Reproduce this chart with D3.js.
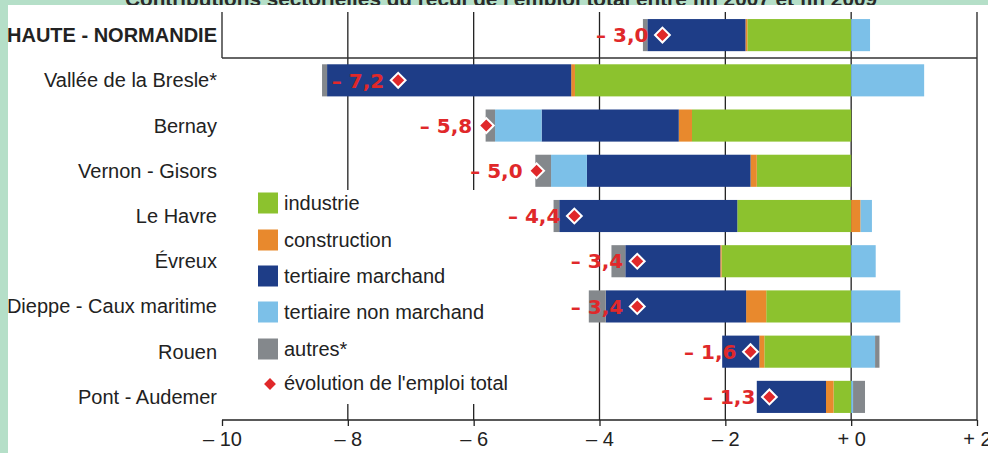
<!DOCTYPE html>
<html>
<head>
<meta charset="utf-8">
<script src="https://cdn.jsdelivr.net/npm/d3@7"></script>
<style>
  body { margin: 0; background: #fff; }
  svg { display: block; }
</style>
</head>
<body>
<div id="chart"></div>
<script>
var categories = ["HAUTE - NORMANDIE", "Vallée de la Bresle*", "Bernay", "Vernon - Gisors", "Le Havre",
                  "Évreux", "Dieppe - Caux maritime", "Rouen", "Pont - Audemer"];
var industrie        = [-1.65, -4.39, -2.53, -1.50, -1.81, -2.06, -1.35, -1.38, -0.28];
var construction     = [-0.03, -0.06, -0.21, -0.10,  0.15, -0.02, -0.32, -0.08, -0.12];
var tertMarchand     = [-1.56, -3.88, -2.18, -2.60, -2.83, -1.51, -2.23, -0.59, -1.10];
var tertNonMarchand  = [ 0.30,  1.16, -0.74, -0.57,  0.18,  0.39,  0.78,  0.38,  0.03];
var autres           = [-0.07, -0.08, -0.15, -0.25, -0.09, -0.22, -0.27,  0.07,  0.19];
var total            = [-3.0, -7.2, -5.8, -5.0, -4.4, -3.4, -3.4, -1.6, -1.3];
var seriesNames = ["industrie", "construction", "tertiaire marchand", "tertiaire non marchand", "autres*"];
var tickValues = [-10, -8, -6, -4, -2, 0, 2];

var colors = ["#8cc22e", "#e8892d", "#1e3d87", "#7cc0e8", "#84888c"];
var red = "#e0282a";
var width = 988, height = 453;
var labelFont = "'Liberation Sans', Arial, sans-serif";

var svg = d3.select("#chart").append("svg")
  .attr("width", width).attr("height", height);

// green frame + cut-off title
svg.append("rect").attr("width", width).attr("height", height).attr("fill", "#b5dfc8");
svg.append("text")
  .attr("x", 125).attr("y", 6)
  .attr("textLength", 752).attr("lengthAdjust", "spacingAndGlyphs")
  .style("font", "bold 20px " + labelFont)
  .attr("fill", "#2a2a2a")
  .text("Contributions sectorielles du recul de l'emploi total entre fin 2007 et fin 2009");
svg.append("rect").attr("x", 8).attr("y", 5).attr("width", width - 8).attr("height", height - 5).attr("fill", "#fff");

var x = d3.scaleLinear().domain([-10, 2]).range([222, 977]);
var y = d3.scaleBand().domain(categories).range([12.5, 419.5]).paddingInner(0.29).paddingOuter(0.145);

var rows = categories.map(function(c, i) {
  return {cat: c, industrie: industrie[i], construction: construction[i],
          marchand: tertMarchand[i], nonmarchand: tertNonMarchand[i], autres: autres[i], total: total[i]};
});
var keys = ["industrie", "construction", "marchand", "nonmarchand", "autres"];
var stack = d3.stack().keys(keys).offset(d3.stackOffsetDiverging)(rows);

var axisY = 420;
var lineCol = "#222";

// gridlines
svg.append("g").selectAll("line").data(tickValues.filter(function(d) { return d > -10; }))
  .join("line")
  .attr("x1", function(d) { return x(d); }).attr("x2", function(d) { return x(d); })
  .attr("y1", 12).attr("y2", axisY)
  .attr("stroke", lineCol).attr("stroke-width", 1.3);

// header row box
svg.append("line").attr("x1", x(-10)).attr("x2", x(-10)).attr("y1", 12).attr("y2", 58)
  .attr("stroke", lineCol).attr("stroke-width", 1.3);
svg.append("line").attr("x1", x(-10)).attr("x2", x(2)).attr("y1", 58).attr("y2", 58)
  .attr("stroke", "#333").attr("stroke-width", 1.3);

// x axis
var xAxis = d3.axisBottom(x).tickValues(tickValues).tickSize(6).tickPadding(6)
  .tickFormat(function(d) { return d < 0 ? "\u2013 " + Math.abs(d) : "+ " + d; });
var gx = svg.append("g").attr("transform", "translate(0," + axisY + ")").call(xAxis);
gx.select(".domain").attr("stroke", lineCol).attr("stroke-width", 1.5).attr("d", "M" + x(-10) + ",0H" + x(2));
gx.selectAll(".tick line").attr("stroke", lineCol).attr("stroke-width", 1.3);
gx.selectAll(".tick text")
  .attr("fill", "#222")
  .style("font", "20px 'Liberation Sans Narrow', 'Liberation Sans', sans-serif");

// legend background hides the gridlines behind it
svg.append("rect").attr("x", 240).attr("y", 190).attr("width", 290).attr("height", 214).attr("fill", "#fff");

// bars
svg.append("g").selectAll("g").data(stack).join("g")
  .attr("fill", function(d, i) { return colors[i]; })
  .selectAll("rect").data(function(d) { return d; }).join("rect")
  .attr("x", function(d) { return x(Math.min(d[0], d[1])); })
  .attr("width", function(d) { return Math.abs(x(d[1]) - x(d[0])); })
  .attr("y", function(d) { return y(d.data.cat); })
  .attr("height", y.bandwidth());

// category labels
svg.append("g").selectAll("text").data(categories).join("text")
  .attr("x", 217).attr("y", function(d) { return y(d) + y.bandwidth() / 2; })
  .attr("dy", "0.35em").attr("text-anchor", "end")
  .attr("fill", "#222")
  .style("font", function(d, i) { return (i == 0 ? "bold " : "") + "20px " + labelFont; })
  .text(function(d) { return d; });

// total labels + diamonds
svg.append("g").selectAll("text").data(rows).join("text")
  .attr("x", function(d) { return x(d.total) - 14; })
  .attr("y", function(d) { return y(d.cat) + y.bandwidth() / 2; })
  .attr("dy", "0.36em").attr("text-anchor", "end")
  .attr("fill", red)
  .style("font", "bold 20px 'DejaVu Sans', Verdana, sans-serif")
  .text(function(d) { return "\u2013 " + d3.format(".1f")(Math.abs(d.total)).replace(".", ","); });

var diamond = d3.symbol().type(d3.symbolSquare).size(110);
svg.append("g").selectAll("path").data(rows).join("path")
  .attr("d", diamond)
  .attr("transform", function(d) { return "translate(" + x(d.total) + "," + (y(d.cat) + y.bandwidth() / 2) + ") rotate(45)"; })
  .attr("fill", red).attr("stroke", "#fff").attr("stroke-width", 2);

// legend
var legend = svg.append("g");
var legY = [203, 240, 276, 312, 349];
seriesNames.forEach(function(name, i) {
  legend.append("rect").attr("x", 258).attr("y", legY[i] - 10.5).attr("width", 20).attr("height", 21)
    .attr("fill", colors[i]);
  legend.append("text").attr("x", 284).attr("y", legY[i]).attr("dy", "0.35em")
    .attr("fill", "#222").style("font", "20px " + labelFont)
    .text(name);
});
legend.append("path").attr("d", d3.symbol().type(d3.symbolSquare).size(70))
  .attr("transform", "translate(270,384) rotate(45)").attr("fill", red);
legend.append("text").attr("x", 284).attr("y", 383).attr("dy", "0.35em")
  .attr("fill", "#222").style("font", "20px " + labelFont)
  .text("évolution de l'emploi total");
</script>
</body>
</html>
